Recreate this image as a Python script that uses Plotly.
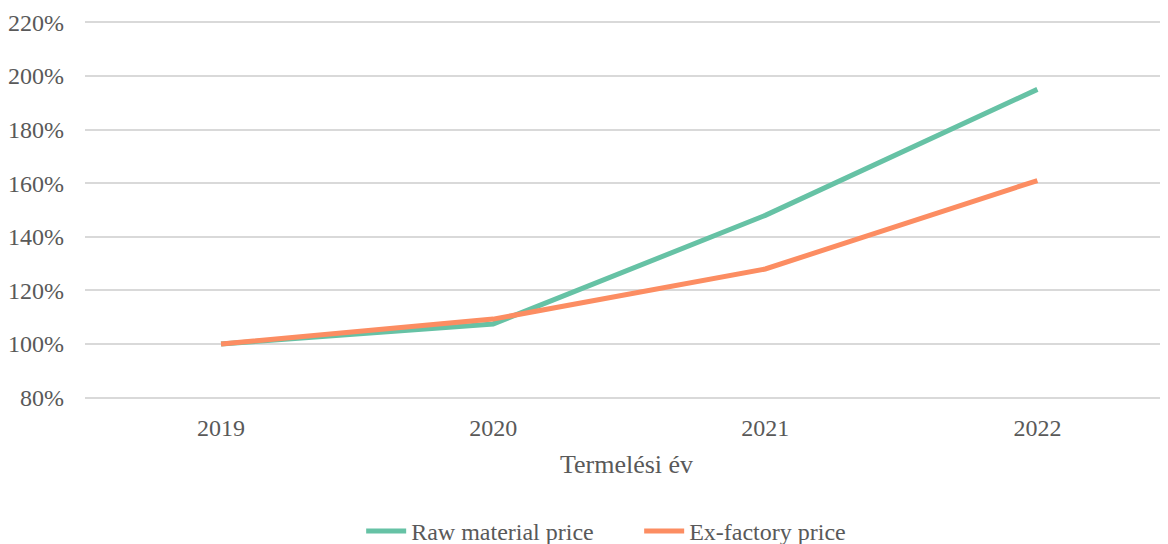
import plotly.graph_objects as go

years = ["2019", "2020", "2021", "2022"]
raw_material = [100, 107.5, 148, 195]
ex_factory = [100, 109.3, 128, 161]
y_ticks = [80, 100, 120, 140, 160, 180, 200, 220]
y_tick_labels = [f"{v}%" for v in y_ticks]

font_family = "Liberation Serif, Times New Roman, serif"
text_color = "#595959"

fig = go.Figure()
fig.add_trace(go.Scatter(x=years, y=raw_material, mode="lines", name="Raw material price",
                         line=dict(color="#66c2a5", width=5)))
fig.add_trace(go.Scatter(x=years, y=ex_factory, mode="lines", name="Ex-factory price",
                         line=dict(color="#fc8d62", width=5)))

# page body has an 8px default margin, so the figure is sized to the visible area
fig.update_layout(
    width=1160, height=536,
    margin=dict(l=77, r=0, t=12.66, b=144.66, autoexpand=False),
    paper_bgcolor="white", plot_bgcolor="white",
    font=dict(family=font_family, size=24, color=text_color),
    showlegend=True,
    legend=dict(orientation="h", x=0.255, xanchor="left", y=-0.35, yanchor="middle",
                font=dict(size=24, color=text_color), itemwidth=40, tracegroupgap=0,
                entrywidth=223),
    hovermode=False,
)
fig.update_xaxes(type="category", range=[-0.5, 3.48], showgrid=False, zeroline=False,
                 showline=False, ticks="", ticklen=0, automargin=False, ticklabelstandoff=12,
                 title=dict(text="Termelési év", font=dict(size=26, color=text_color), standoff=14))
fig.update_yaxes(range=[79.5, 220.5], tickvals=y_ticks, ticktext=y_tick_labels,
                 showgrid=True, gridcolor="#d9d9d9", gridwidth=1.5, zeroline=False,
                 showline=False, ticks="", automargin=False, ticklabelstandoff=20)

fig.write_html("out.html")
